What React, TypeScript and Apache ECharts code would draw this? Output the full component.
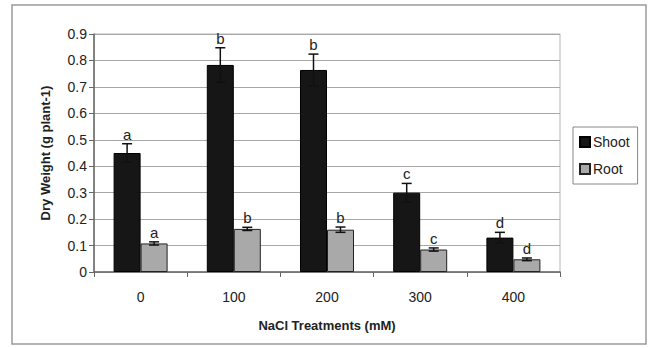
import React, { useEffect, useRef } from "react";
import * as echarts from "echarts";

const categories = ["0", "100", "200", "300", "400"];
const shootValues = [0.45, 0.783, 0.764, 0.3, 0.13];
const shootErrors = [0.035, 0.065, 0.06, 0.035, 0.02];
const shootLetters = ["a", "b", "b", "c", "d"];
const rootValues = [0.108, 0.163, 0.16, 0.085, 0.048];
const rootErrors = [0.006, 0.006, 0.01, 0.006, 0.005];
const rootLetters = ["a", "b", "b", "c", "d"];
const yTicks = [0, 0.1, 0.2, 0.3, 0.4, 0.5, 0.6, 0.7, 0.8, 0.9];

const FONT = "Liberation Sans, Arial, sans-serif";
const BAR_W = 27;

function errorSeries(name: string, values: number[], errors: number[], letters: string[], side: number) {
  return {
    type: "custom",
    name: name + "-err",
    z: 5,
    silent: true,
    data: values.map((v, i) => [i, v, errors[i]]),
    encode: { x: 0, y: 1 },
    renderItem: (params: any, api: any) => {
      const i = api.value(0);
      const v = api.value(1);
      const e = api.value(2);
      const letter = letters[params.dataIndex];
      const top = api.coord([i, v + e]);
      const bot = api.coord([i, v - e]);
      const x = top[0] + side * (BAR_W / 2);
      const capW = 5;
      return {
        type: "group",
        children: [
          { type: "line", shape: { x1: x, y1: top[1], x2: x, y2: bot[1] }, style: { stroke: "#111", lineWidth: 1.5 } },
          { type: "line", shape: { x1: x - capW, y1: top[1], x2: x + capW, y2: top[1] }, style: { stroke: "#111", lineWidth: 1.5 } },
          { type: "line", shape: { x1: x - capW, y1: bot[1], x2: x + capW, y2: bot[1] }, style: { stroke: "#111", lineWidth: 1.5 } },
          {
            type: "text",
            x: x,
            y: top[1] - 2,
            style: { text: letter, fill: "#222", font: "15px " + FONT, align: "center", verticalAlign: "bottom" },
          },
        ],
      };
    },
  };
}

export default function App() {
  const ref = useRef<HTMLDivElement>(null);
  useEffect(() => {
    document.body.style.margin = "0";
    if (!ref.current) return;
    const chart = echarts.init(ref.current, null, { renderer: "svg" });
    chart.setOption({
      animation: false,
      backgroundColor: "#ffffff",
      textStyle: { fontFamily: FONT },
      graphic: [
        {
          type: "rect",
          shape: { x: 12, y: 5, width: 634, height: 339 },
          style: { fill: "none", stroke: "#9a9a9a", lineWidth: 1.5 },
          silent: true,
        },
      ],
      grid: {
        left: 94,
        right: 90,
        top: 34,
        bottom: 76,
        show: true,
        borderColor: "#b5b5b5",
        borderWidth: 1,
        backgroundColor: "transparent",
      },
      legend: {
        orient: "vertical",
        left: 573,
        top: 127,
        padding: [8, 8, 8, 6],
        itemWidth: 10,
        itemHeight: 10,
        itemGap: 13,
        icon: "rect",
        borderColor: "#888",
        borderWidth: 1,
        data: ["Shoot", "Root"],
        textStyle: { fontSize: 14, color: "#222", fontFamily: FONT, padding: [0, 0, 0, -2] },
      },
      xAxis: {
        type: "category",
        data: categories,
        name: "NaCl Treatments (mM)",
        nameLocation: "middle",
        nameGap: 47,
        nameTextStyle: { fontSize: 13, fontWeight: "bold", color: "#222", fontFamily: FONT },
        axisLine: { lineStyle: { color: "#666", width: 1.5 } },
        axisTick: { show: true, inside: false, length: 5, alignWithLabel: false, lineStyle: { color: "#666" } },
        axisLabel: { fontSize: 14, color: "#222", margin: 18, fontFamily: FONT },
        splitLine: { show: false },
      },
      yAxis: {
        type: "value",
        min: 0,
        max: 0.9,
        interval: 0.1,
        name: "Dry Weight (g plant-1)",
        nameLocation: "middle",
        nameGap: 42,
        nameRotate: 90,
        nameTextStyle: { fontSize: 13, fontWeight: "bold", color: "#222", fontFamily: FONT },
        axisLine: { show: true, lineStyle: { color: "#666", width: 1.5 } },
        axisTick: { show: true, length: 5, lineStyle: { color: "#666" } },
        axisLabel: {
          fontSize: 14,
          color: "#222",
          margin: 7,
          fontFamily: FONT,
          formatter: (v: number) => {
            const t = yTicks.find((k) => Math.abs(k - v) < 1e-6);
            return t === undefined ? "" : t === 0 ? "0" : t.toFixed(1);
          },
        },
        splitLine: { show: true, lineStyle: { color: "#a8a8a8", width: 1.2 } },
      },
      series: [
        {
          type: "bar",
          name: "Shoot",
          data: shootValues,
          barWidth: BAR_W,
          barGap: "0%",
          itemStyle: { color: "#161616", borderColor: "#000", borderWidth: 1 },
          z: 3,
        },
        {
          type: "bar",
          name: "Root",
          data: rootValues,
          barWidth: BAR_W,
          barGap: "0%",
          itemStyle: { color: "#a9a9a9", borderColor: "#222", borderWidth: 1 },
          z: 3,
        },
        errorSeries("Shoot", shootValues, shootErrors, shootLetters, -1),
        errorSeries("Root", rootValues, rootErrors, rootLetters, 1),
      ],
    });
    return () => chart.dispose();
  }, []);
  return <div ref={ref} style={{ width: 650, height: 348 }} />;
}
